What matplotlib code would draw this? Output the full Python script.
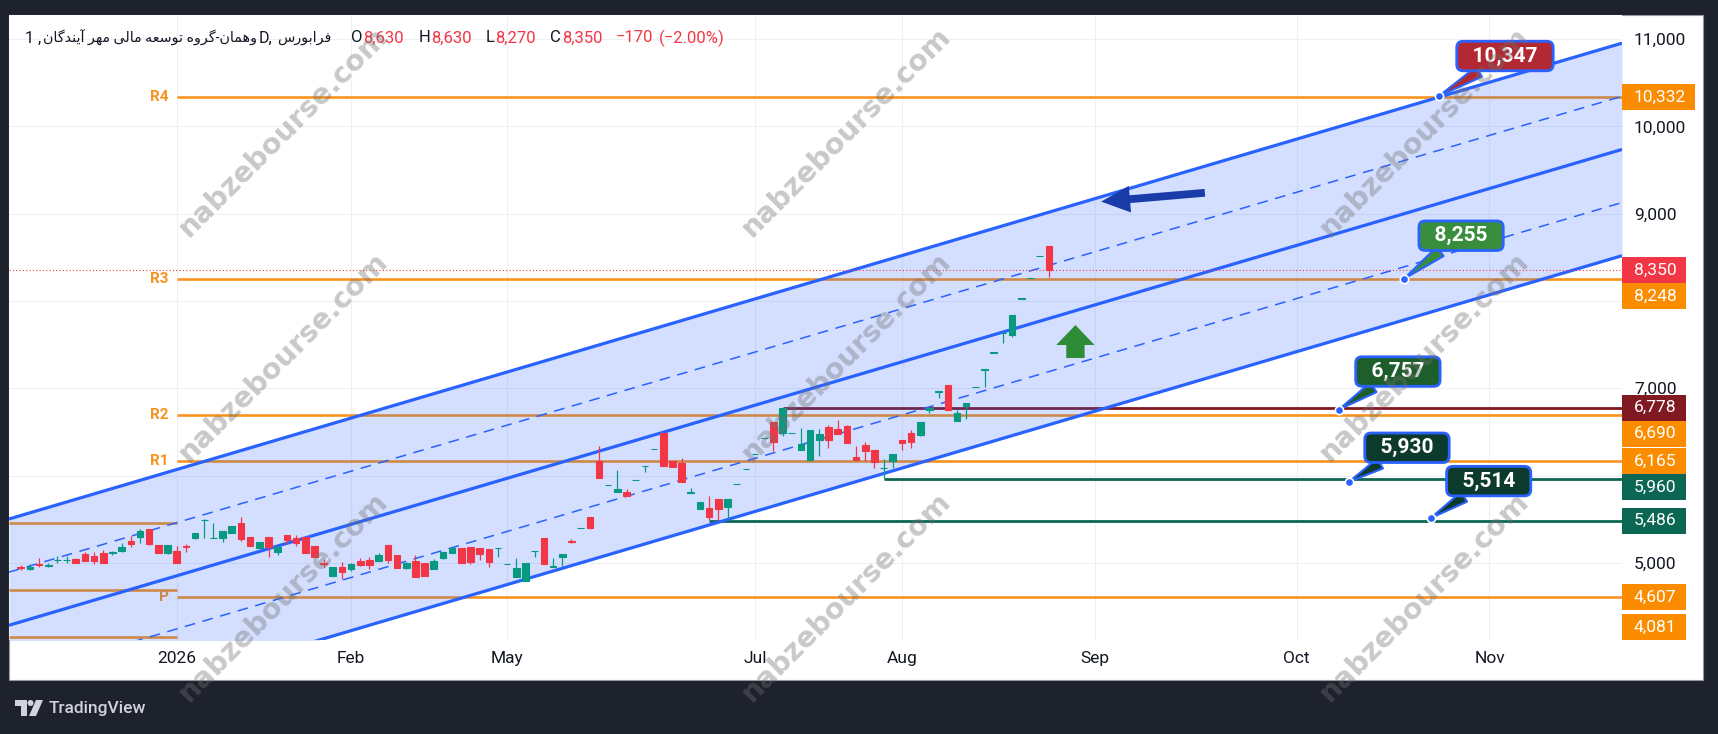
import matplotlib
matplotlib.use("Agg")
import matplotlib.pyplot as plt
import numpy as np
from matplotlib.patches import Rectangle, FancyArrowPatch, Polygon, Circle
from matplotlib.transforms import IdentityTransform

# ---------------------------------------------------------------- data
bar_open = [4950, 4927, 4985, 4970, 5030, 5030, 5046, 5103, 5080, 5118,
            5115, 5137, 5256, 5302, 5389, 5206, 5118, 5137, 5190, 5290,
            5490, 5282, 5290, 5340, 5454, 5294, 5176, 5294, 5130, 5321,
            5283, 5302, 5195, 4998, 4855, 4958, 4931, 5027, 5034, 5027,
            5206, 5092, 4939, 5027, 4996, 4927, 5053, 5118, 5168, 5179,
            5168, 5156, 5166, 4988, 4844, 4798, 5135, 5282, 4958, 5073,
            5250, 5403, 5528, 6169, 5888, 5814, 5814, 5945, 6110, 6300,
            6493, 6165, 6142, 5806, 5623, 5634, 5737, 5646, 5900, 6079,
            6251, 6434, 6615, 6489, 6487, 6291, 6184, 6406, 6558, 6535,
            6566, 6215, 6356, 6299, 6087, 6165, 6413, 6489, 6470, 6755,
            6960, 7038, 6630, 6798, 7017, 7215, 7410, 7628, 7611, 8028,
            8265, 8513, 8630]
bar_high = [4977, 4985, 5053, 4996, 5084, 5080, 5053, 5130, 5126, 5149,
            5141, 5233, 5309, 5386, 5389, 5206, 5206, 5198, 5218, 5347,
            5500, 5454, 5366, 5424, 5531, 5294, 5244, 5294, 5198, 5321,
            5321, 5302, 5195, 5042, 4950, 5015, 4996, 5053, 5073, 5111,
            5206, 5092, 5015, 5092, 4996, 5042, 5130, 5176, 5168, 5179,
            5168, 5156, 5168, 4990, 5053, 4996, 5137, 5282, 5053, 5099,
            5270, 5406, 5528, 6341, 5890, 6062, 5844, 5947, 6112, 6302,
            6493, 6165, 6207, 5863, 5699, 5768, 5737, 5737, 5902, 6081,
            6253, 6436, 6615, 6778, 6489, 6547, 6528, 6535, 6585, 6642,
            6585, 6337, 6383, 6299, 6192, 6253, 6413, 6528, 6615, 6770,
            6964, 7038, 6752, 6836, 7019, 7217, 7412, 7630, 7840, 8030,
            8267, 8515, 8630]
bar_low = [4920, 4920, 4958, 4950, 4996, 5004, 5004, 5023, 4989, 4996,
           5092, 5130, 5187, 5233, 5206, 5118, 5103, 5004, 5130, 5271,
           5282, 5282, 5244, 5340, 5256, 5198, 5168, 5065, 5092, 5218,
           5195, 5111, 5065, 4958, 4855, 4813, 4912, 4966, 4927, 5027,
           4996, 4939, 4927, 4836, 4851, 4927, 5042, 5118, 4996, 4989,
           5034, 4958, 5065, 4988, 4844, 4798, 5073, 4989, 4958, 4966,
           5230, 5403, 5390, 5970, 5888, 5814, 5768, 5945, 6047, 6300,
           6112, 6100, 5928, 5806, 5623, 5490, 5490, 5490, 5900, 6079,
           6251, 6434, 6283, 6450, 6487, 6291, 6165, 6230, 6318, 6482,
           6375, 6184, 6165, 6089, 5960, 6089, 6299, 6318, 6451, 6721,
           6885, 6752, 6630, 6645, 7017, 7019, 7410, 7515, 7592, 8028,
           8265, 8513, 8270]
bar_close = [4945, 4958, 4977, 4975, 5036, 5036, 5004, 5027, 5027, 4996,
             5120, 5179, 5218, 5370, 5214, 5118, 5206, 5004, 5185, 5340,
             5492, 5284, 5366, 5424, 5271, 5198, 5244, 5187, 5187, 5263,
             5225, 5111, 5073, 4994, 4950, 4901, 4985, 4977, 4977, 5092,
             5034, 4939, 5004, 4836, 4851, 5027, 5130, 5176, 4996, 5015,
             5103, 5015, 5168, 4990, 4939, 4996, 5137, 4989, 4960, 5099,
             5245, 5406, 5400, 5970, 5890, 5844, 5768, 5947, 6112, 6302,
             6112, 6100, 5928, 5808, 5699, 5528, 5615, 5737, 5902, 6081,
             6253, 6436, 6386, 6778, 6489, 6367, 6528, 6482, 6413, 6482,
             6375, 6184, 6280, 6154, 6090, 6253, 6375, 6383, 6615, 6770,
             6964, 6752, 6721, 6836, 7019, 7217, 7412, 7630, 7840, 8030,
             8267, 8515, 8350]

month_tick_bars = [17, 36, 53, 80, 96, 117, 139, 160]
month_tick_labels = ["2026", "Feb", "May", "Jul", "Aug", "Sep", "Oct", "Nov"]

price_grid = [5000, 6000, 7000, 8000, 9000, 10000, 11000]
price_tick_labels = ["5,000", "", "7,000", "", "9,000", "10,000", "11,000"]

pivot_start_bar = 17
pivot_names = ["R4", "R3", "R2", "R1", "P"]
pivot_values = [10332, 8248, 6690, 6165, 4607]
prev_pivot_values = [5454, 4691, 4150]

level_values = [6778, 5960, 5486]
level_start_bars = [83, 94, 75]
level_colors = ["#801922", "#0b6653", "#0b6653"]

channel_bars = [0, 174]
channel_mid = [4326, 9722]
channel_half = 1217

last_price = 8350

axis_label_values = [10332, 8350, 8248, 6778, 6690, 6165, 5960, 5486, 4607, 4081]
axis_label_texts = ["10,332", "8,350", "8,248", "6,778", "6,690", "6,165",
                    "5,960", "5,486", "4,607", "4,081"]
axis_label_colors = ["#fb8c00", "#f23645", "#fb8c00", "#801922", "#fb8c00",
                     "#fb8c00", "#0b6653", "#0b6653", "#fb8c00", "#fb8c00"]

callout_texts = ["10,347", "8,255", "6,757", "5,930", "5,514"]
callout_bars = [154.5, 150.7, 143.6, 144.7, 153.6]
callout_prices = [10347, 8255, 6757, 5930, 5514]
callout_colors = ["#b22833", "#388e3c", "#1d5e2a", "#0c3b2e", "#0c3b2e"]

blue_arrow_from = (129.0, 9239)
blue_arrow_to = (117.7, 9138)
green_arrow_from = (114.9, 7347)
green_arrow_to = (114.9, 7725)

symbol_name = "وهمان-گروه توسعه مالی مهر آیندگان"
exchange_name = "فرابورس"
interval_text = "1D"
ohlc_names = ["O", "H", "L", "C"]
ohlc_values = ["8,630", "8,630", "8,270", "8,350"]
change_text = ["−170", "(−2.00%)"]
watermark_text = "nabzebourse.com"

# ---------------------------------------------------------------- helpers
FORMS = {
    "ا": ("\uFE8D", "\uFE8E", None, None),
    "آ": ("\uFE81", "\uFE82", None, None),
    "ب": ("\uFE8F", "\uFE90", "\uFE91", "\uFE92"),
    "ت": ("\uFE95", "\uFE96", "\uFE97", "\uFE98"),
    "د": ("\uFEA9", "\uFEAA", None, None),
    "ر": ("\uFEAD", "\uFEAE", None, None),
    "س": ("\uFEB1", "\uFEB2", "\uFEB3", "\uFEB4"),
    "ع": ("\uFEC9", "\uFECA", "\uFECB", "\uFECC"),
    "ف": ("\uFED1", "\uFED2", "\uFED3", "\uFED4"),
    "گ": ("\uFB92", "\uFB93", "\uFB94", "\uFB95"),
    "ل": ("\uFEDD", "\uFEDE", "\uFEDF", "\uFEE0"),
    "م": ("\uFEE1", "\uFEE2", "\uFEE3", "\uFEE4"),
    "ن": ("\uFEE5", "\uFEE6", "\uFEE7", "\uFEE8"),
    "ه": ("\uFEE9", "\uFEEA", "\uFEEB", "\uFEEC"),
    "و": ("\uFEED", "\uFEEE", None, None),
    "ی": ("\uFBFC", "\uFBFD", "\uFBFE", "\uFBFF"),
}


def visual_rtl(s):
    out = []
    for i, ch in enumerate(s):
        f = FORMS.get(ch)
        if f is None:
            out.append(ch)
            continue
        prev = s[i - 1] if i > 0 else ""
        nxt = s[i + 1] if i + 1 < len(s) else ""
        jp = prev in FORMS and FORMS[prev][2] is not None
        jn = f[2] is not None and nxt in FORMS
        if jp and jn:
            out.append(f[3])
        elif jp:
            out.append(f[1])
        elif jn:
            out.append(f[2])
        else:
            out.append(f[0])
    return "".join(out)[::-1]


# ---------------------------------------------------------------- figure
W, H = 1718, 734
DPI = 100
BG = "#1e222d"
TXT = "#131722"
RED = "#f23645"
GREEN = "#089981"
BLUE = "#2962ff"
ORANGE = "#f7931e"
FONT = ["Roboto", "DejaVu Sans"]
plt.rcParams["font.family"] = FONT

fig = plt.figure(figsize=(W / DPI, H / DPI), dpi=DPI, facecolor=BG)


def fx(px):
    return px / W


def fy(py):
    return 1 - py / H


panel = Rectangle((fx(9), fy(680)), fx(1703) - fx(9), fy(15) - fy(680),
                  transform=fig.transFigure, facecolor="white",
                  edgecolor="#9598a1", lw=0.8, zorder=-5)
fig.add_artist(panel)

PANE_L, PANE_R, PANE_T, PANE_B = 9, 1622, 15, 640
ax = fig.add_axes([fx(PANE_L), fy(PANE_B), fx(PANE_R) - fx(PANE_L),
                   fy(PANE_T) - fy(PANE_B)])
ax.set_facecolor("white")
for s in ax.spines.values():
    s.set_visible(False)

XMIN, XMAX = -1.27, 174.44
ax.set_xlim(XMIN, XMAX)
ax.set_ylim(4118, 11275)

# grid + ticks
ax.set_xticks(month_tick_bars)
ax.set_xticklabels(month_tick_labels)
ax.yaxis.tick_right()
ax.set_yticks(price_grid)
ax.set_yticklabels(price_tick_labels)
ax.tick_params(axis="x", length=0, pad=8, labelsize=12.5, labelcolor=TXT)
ax.tick_params(axis="y", length=0, pad=8.6, labelsize=12.5, labelcolor=TXT)
ax.grid(True, color="#eef0f4", lw=0.8, zorder=0)
ax.set_axisbelow(True)

# pivot lines
for name, v in zip(pivot_names, pivot_values):
    ax.hlines(v, pivot_start_bar, XMAX, color=ORANGE, lw=1.9, zorder=1)
    ax.annotate(name, xy=(pivot_start_bar, v), xytext=(-8, 0),
                textcoords="offset pixels", ha="right", va="center",
                color=ORANGE, fontsize=11, fontweight="bold", zorder=1)
for v in prev_pivot_values:
    ax.hlines(v, XMIN, pivot_start_bar, color=ORANGE, lw=1.9, zorder=1)

# drawn levels
for v, b, c in zip(level_values, level_start_bars, level_colors):
    ax.hlines(v, b, XMAX, color=c, lw=2.0, zorder=1.2)

# channel
cx = np.array([XMIN, XMAX])
slope = (channel_mid[1] - channel_mid[0]) / (channel_bars[1] - channel_bars[0])
mid = channel_mid[0] + slope * (cx - channel_bars[0])
ax.fill_between(cx, mid - channel_half, mid + channel_half, color=BLUE,
                alpha=0.2, lw=0, zorder=2)
for k in (-1, 0, 1):
    ax.plot(cx, mid + k * channel_half, color=BLUE, lw=2.3, zorder=3,
            solid_capstyle="butt")
for k in (-0.5, 0.5):
    ax.plot(cx, mid + k * channel_half, color=BLUE, lw=1.1, zorder=3,
            dashes=(7, 5))

# last price line
ax.axhline(last_price, color=RED, lw=0.8, ls=(0, (1, 2)), zorder=3.5)

# candles
o = np.array(bar_open, float)
h = np.array(bar_high, float)
l = np.array(bar_low, float)
c = np.array(bar_close, float)
idx = np.arange(len(o))
cols = np.where(c >= o, GREEN, RED)
ax.vlines(idx, l, h, colors=cols, lw=0.9, zorder=4)
ax.bar(idx, np.abs(c - o), bottom=np.minimum(o, c), width=0.72,
       color=cols, edgecolor=cols, lw=0.8, zorder=4.1)

# arrows
ax.add_patch(FancyArrowPatch(blue_arrow_from, blue_arrow_to,
                             arrowstyle="simple,head_length=1.3,head_width=1.2,tail_width=0.35",
                             mutation_scale=16, color="#1a3ca8", lw=0,
                             shrinkA=0, shrinkB=0, zorder=5))
ax.add_patch(FancyArrowPatch(green_arrow_from, green_arrow_to,
                             arrowstyle="simple,head_length=0.6,head_width=1.15,tail_width=0.55",
                             mutation_scale=24, color="#2e8b36", lw=0,
                             shrinkA=0, shrinkB=0, zorder=5))

# callouts
callout_offsets = [(66, 40), (57, 43), (59, 38), (58, 34), (58, 37)]
for t, b, p, col, off in zip(callout_texts, callout_bars, callout_prices,
                             callout_colors, callout_offsets):
    ax.annotate("  " + t + "  ", xy=(b, p), xytext=off,
                textcoords="offset pixels", ha="center", va="center",
                color="white", fontsize=15, fontweight="bold", zorder=6,
                bbox=dict(boxstyle="round,pad=0.25,rounding_size=0.3",
                          fc=col, ec=BLUE, lw=2),
                arrowprops=dict(arrowstyle="wedge,tail_width=0.55,shrink_factor=0.5",
                                fc=col, ec=BLUE, lw=1.5, shrinkA=0, shrinkB=0))
    ax.plot([b], [p], "o", ms=6, mfc=BLUE, mec="white", mew=1.2, zorder=7)

# ---------------------------------------------------------------- price axis labels
renderer = fig.canvas.get_renderer()
ident = IdentityTransform()
BOX_H = 26
order = np.argsort(-np.array(axis_label_values))
prev_y = None
for i in order:
    v = axis_label_values[i]
    ytop = H - ax.transData.transform((0, v))[1]
    ytop = min(max(ytop, PANE_T + BOX_H / 2), PANE_B - BOX_H / 2)
    if prev_y is not None:
        ytop = max(ytop, prev_y + BOX_H)
    prev_y = ytop
    yd = H - ytop
    t = fig.text(1634, yd, axis_label_texts[i], transform=ident, color="white",
                 fontsize=12.5, ha="left", va="center", zorder=6)
    bb = t.get_window_extent(renderer)
    fig.add_artist(Rectangle((PANE_R, yd - BOX_H / 2), bb.x1 + 9 - PANE_R, BOX_H,
                             transform=ident, facecolor=axis_label_colors[i],
                             edgecolor="none", zorder=5.5))

# ---------------------------------------------------------------- title line
def draw_pieces(x, y, pieces):
    for s, col, gap, size in pieces:
        x += gap
        t = fig.text(x, y, s, transform=ident, color=col, fontsize=size,
                     ha="left", va="center", family=FONT, zorder=6)
        x = t.get_window_extent(renderer).x1
    return x


title_y = H - 38
pieces = [("1 ,", TXT, 0, 11.5), (visual_rtl(symbol_name), TXT, 2, 10.3),
          (interval_text[1:] + ",", TXT, 1, 11.5),
          (visual_rtl(exchange_name), TXT, 5, 10.3)]
draw_pieces(25, title_y, pieces)
pieces2 = []
for n, v in zip(ohlc_names, ohlc_values):
    pieces2.append((n, TXT, 14 if pieces2 else 0, 12))
    pieces2.append((v, RED, 1, 12))
pieces2.append((change_text[0], RED, 13, 12))
pieces2.append((change_text[1], RED, 6, 12))
draw_pieces(351, title_y, pieces2)

# ---------------------------------------------------------------- TradingView logo
logo_y = 708
fig.add_artist(Polygon([(15, H - 700), (27, H - 700), (27, H - 716), (21, H - 716),
                        (21, H - 706), (15, H - 706)], closed=True,
                       transform=ident, facecolor="#d1d4dc", edgecolor="none"))
fig.add_artist(Circle((30.5, H - 703), 3, transform=ident, facecolor="#d1d4dc",
                      edgecolor="none"))
fig.add_artist(Polygon([(36, H - 700), (43, H - 700), (36, H - 716), (29, H - 716)],
                       closed=True, transform=ident, facecolor="#d1d4dc",
                       edgecolor="none"))
fig.text(49, H - logo_y, "TradingView", transform=ident, color="#d1d4dc",
         fontsize=12.5, fontweight="medium", ha="left", va="center")

# ---------------------------------------------------------------- watermarks
for wx in (283, 846, 1424):
    for wy in (132, 357, 597):
        fig.text(wx, H - wy, watermark_text, transform=ident, rotation=45,
                 rotation_mode="anchor", ha="center", va="center",
                 fontsize=20.5, fontweight="bold", family="DejaVu Sans",
                 color="#707070", alpha=0.38, zorder=10)

fig.savefig("out.png", dpi=DPI, facecolor=BG)
